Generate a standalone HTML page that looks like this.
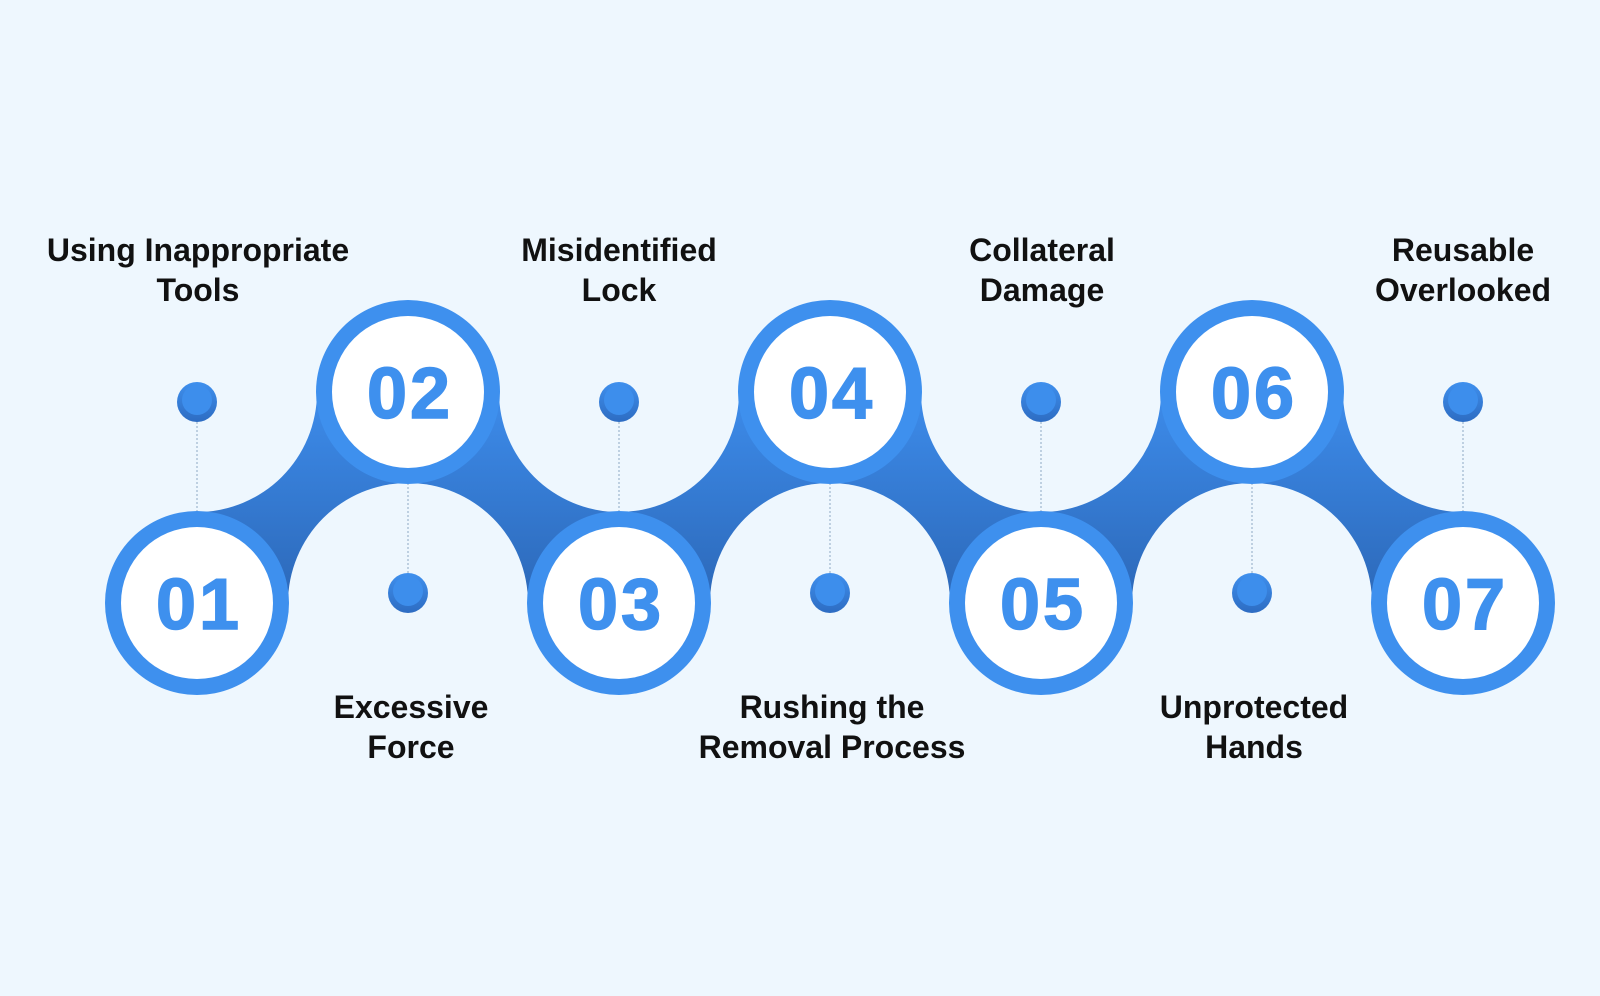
<!DOCTYPE html>
<html><head><meta charset="utf-8"><style>
html,body{margin:0;padding:0;background:#eef7fe;}
svg{display:block}
text{font-family:"Liberation Sans",Arial,sans-serif;}
</style></head><body>
<svg width="1600" height="996" viewBox="0 0 1600 996" xmlns="http://www.w3.org/2000/svg">
<defs>
<linearGradient id="band" x1="0" y1="0" x2="0" y2="1">
<stop offset="0" stop-color="#3d8ceb"/>
<stop offset="1" stop-color="#2c68b8"/>
</linearGradient>
<linearGradient id="dot" x1="0" y1="0" x2="0" y2="1">
<stop offset="0" stop-color="#3f90ee"/>
<stop offset="1" stop-color="#2d6cc2"/>
</linearGradient>
</defs>
<rect width="1600" height="996" fill="#eef7fe"/>
<rect x="197" y="392" width="1266" height="211" fill="url(#band)"/>
<g fill="#eef7fe">
<circle cx="197" cy="392" r="120"/>
<circle cx="408" cy="603" r="120"/>
<circle cx="619" cy="392" r="120"/>
<circle cx="830" cy="603" r="120"/>
<circle cx="1041" cy="392" r="120"/>
<circle cx="1252" cy="603" r="120"/>
<circle cx="1463" cy="392" r="120"/>
</g>
<g stroke="#8fa9c4" stroke-width="1" stroke-dasharray="2,2">
<line x1="197" y1="402" x2="197" y2="512"/>
<line x1="619" y1="402" x2="619" y2="512"/>
<line x1="1041" y1="402" x2="1041" y2="512"/>
<line x1="1463" y1="402" x2="1463" y2="512"/>
<line x1="408" y1="483" x2="408" y2="593"/>
<line x1="830" y1="483" x2="830" y2="593"/>
<line x1="1252" y1="483" x2="1252" y2="593"/>
</g>
<g>
<circle cx="197" cy="402" r="20" fill="url(#dot)"/><circle cx="197" cy="400" r="15" fill="#3d8eec"/>
<circle cx="619" cy="402" r="20" fill="url(#dot)"/><circle cx="619" cy="400" r="15" fill="#3d8eec"/>
<circle cx="1041" cy="402" r="20" fill="url(#dot)"/><circle cx="1041" cy="400" r="15" fill="#3d8eec"/>
<circle cx="1463" cy="402" r="20" fill="url(#dot)"/><circle cx="1463" cy="400" r="15" fill="#3d8eec"/>
<circle cx="408" cy="593" r="20" fill="url(#dot)"/><circle cx="408" cy="591" r="15" fill="#3d8eec"/>
<circle cx="830" cy="593" r="20" fill="url(#dot)"/><circle cx="830" cy="591" r="15" fill="#3d8eec"/>
<circle cx="1252" cy="593" r="20" fill="url(#dot)"/><circle cx="1252" cy="591" r="15" fill="#3d8eec"/>
</g>
<g fill="#3e90ee">
<circle cx="197" cy="603" r="92"/><circle cx="408" cy="392" r="92"/>
<circle cx="619" cy="603" r="92"/><circle cx="830" cy="392" r="92"/>
<circle cx="1041" cy="603" r="92"/><circle cx="1252" cy="392" r="92"/>
<circle cx="1463" cy="603" r="92"/>
</g>
<g fill="#ffffff">
<circle cx="197" cy="603" r="76"/><circle cx="408" cy="392" r="76"/>
<circle cx="619" cy="603" r="76"/><circle cx="830" cy="392" r="76"/>
<circle cx="1041" cy="603" r="76"/><circle cx="1252" cy="392" r="76"/>
<circle cx="1463" cy="603" r="76"/>
</g>
<g fill="#3e90ee" font-size="72" font-weight="bold" text-anchor="middle" stroke="#3e90ee" stroke-width="1.5" letter-spacing="3">
<text x="199" y="629">01</text><text x="410" y="418">02</text>
<text x="621" y="629">03</text><text x="832" y="418">04</text>
<text x="1043" y="629">05</text><text x="1254" y="418">06</text>
<text x="1465" y="629">07</text>
</g>
<g fill="#111" font-size="32" font-weight="bold" text-anchor="middle">
<text x="198" y="261">Using Inappropriate</text><text x="198" y="301">Tools</text>
<text x="619" y="261">Misidentified</text><text x="619" y="301">Lock</text>
<text x="1042" y="261">Collateral</text><text x="1042" y="301">Damage</text>
<text x="1463" y="261">Reusable</text><text x="1463" y="301">Overlooked</text>
<text x="411" y="718">Excessive</text><text x="411" y="758">Force</text>
<text x="832" y="718">Rushing the</text><text x="832" y="758">Removal Process</text>
<text x="1254" y="718">Unprotected</text><text x="1254" y="758">Hands</text>
</g>
</svg>
</body></html>
